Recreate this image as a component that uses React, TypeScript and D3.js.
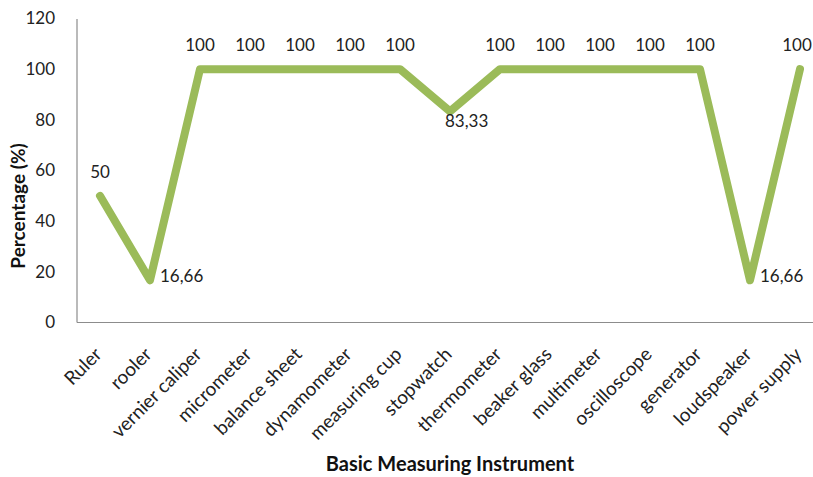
import React from "react";
import * as d3 from "d3";

const categories = [
  "Ruler", "rooler", "vernier caliper", "micrometer", "balance sheet",
  "dynamometer", "measuring cup", "stopwatch", "thermometer", "beaker glass",
  "multimeter", "oscilloscope", "generator", "loudspeaker", "power supply",
];
const percentages = [50, 16.66, 100, 100, 100, 100, 100, 83.33, 100, 100, 100, 100, 100, 16.66, 100];
const yTicks = [0, 20, 40, 60, 80, 100, 120];

const W = 813;
const H = 477;
const FONT = "Lato, 'Open Sans', sans-serif";
const FS = 17;

const fmt = (v: number) => (Number.isInteger(v) ? String(v) : v.toFixed(2).replace(".", ","));

export default function App() {
  const x = d3.scalePoint<string>().domain(categories).range([100, 800]);
  const y = d3.scaleLinear().domain([0, 120]).range([322.5, 18.5]);
  const axisX0 = 77;

  const line = d3
    .line<number>()
    .x((_, i) => x(categories[i]) as number)
    .y((d) => y(d));

  return (
    <svg width={W} height={H} style={{ position: "absolute", left: 0, top: 0, background: "#fff" }}>
      {/* axes */}
      <line x1={axisX0} x2={axisX0} y1={19} y2={y(0)} stroke="#8c8c8c" strokeWidth={1.2} />
      <line x1={axisX0} x2={W} y1={y(0)} y2={y(0)} stroke="#8c8c8c" strokeWidth={1.2} />

      {yTicks.map((t) => (
        <text key={t} x={55} y={y(t)} dy="0.35em" textAnchor="end" fontFamily={FONT} fontSize={FS} fill="#222">
          {t}
        </text>
      ))}

      {categories.map((c) => {
        const cx = x(c) as number;
        return (
          <text
            key={c}
            transform={`translate(${cx + 3},${y(0) + 33}) rotate(-45)`}
            textAnchor="end"
            fontFamily={FONT}
            fontSize={19}
            fill="#222"
          >
            {c}
          </text>
        );
      })}

      <path
        d={line(percentages) ?? ""}
        fill="none"
        stroke="#9BBB59"
        strokeWidth={8}
        strokeLinecap="round"
        strokeLinejoin="round"
      />

      {percentages.map((v, i) => {
        const px = x(categories[i]) as number;
        const py = y(v);
        if (v < 30) {
          return (
            <text key={i} x={px + 10} y={py - 4} dy="0.35em" fontFamily={FONT} fontSize={FS} fill="#222">
              {fmt(v)}
            </text>
          );
        }
        if (v < 100 && i > 0) {
          return (
            <text key={i} x={px - 5} y={py + 16} fontFamily={FONT} fontSize={FS} fill="#222">
              {fmt(v)}
            </text>
          );
        }
        // keep the last label inside the drawing area
        const lx = Math.min(px, W - 16);
        return (
          <text key={i} x={lx} y={py - 18} textAnchor="middle" fontFamily={FONT} fontSize={FS} fill="#222">
            {fmt(v)}
          </text>
        );
      })}

      <text
        transform={`translate(25,206) rotate(-90)`}
        textAnchor="middle"
        fontFamily={FONT}
        fontSize={19}
        fontWeight="bold"
        fill="#111"
      >
        Percentage (%)
      </text>
      <text x={450} y={471} textAnchor="middle" fontFamily={FONT} fontSize={20} fontWeight="bold" fill="#111">
        Basic Measuring Instrument
      </text>
    </svg>
  );
}
